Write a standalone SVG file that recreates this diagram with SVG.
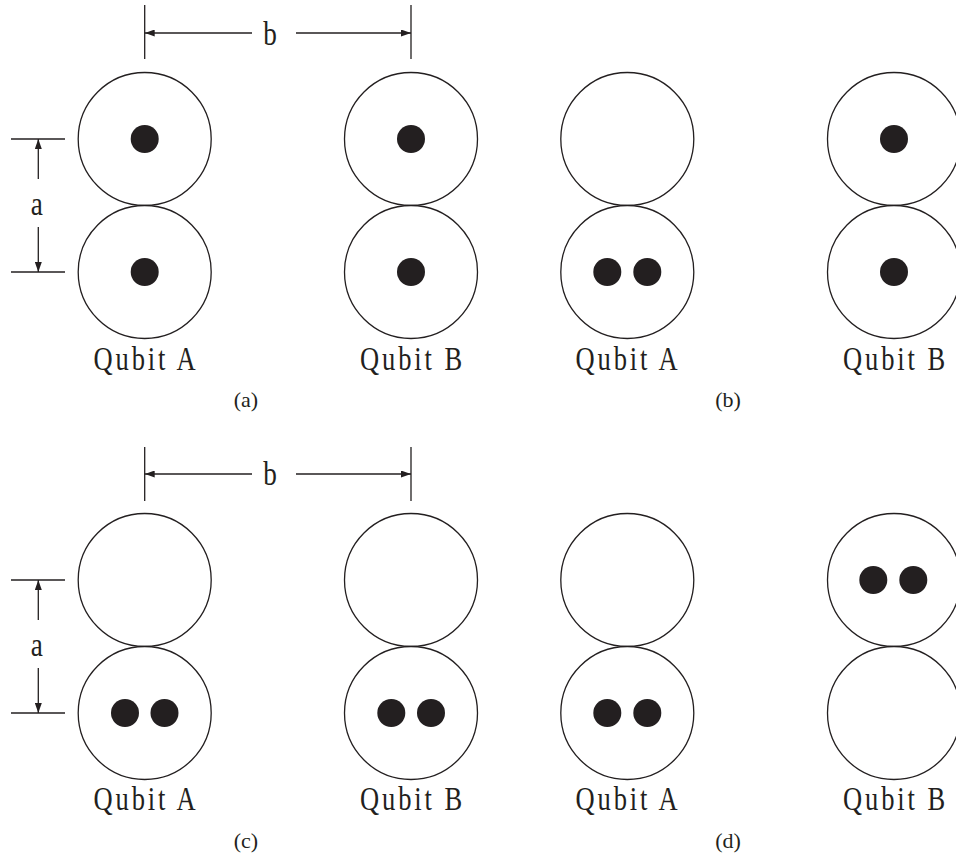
<svg xmlns="http://www.w3.org/2000/svg" width="956" height="860" viewBox="0 0 956 860">
<defs>
<style>
.well{fill:#fff;stroke:#231f20;stroke-width:1.3}
.dot{fill:#231f20}
.dim{stroke:#231f20;stroke-width:1.3;fill:none}
.lbl{font-family:"Liberation Serif","Times New Roman",serif;font-size:34px;fill:#231f20;text-anchor:middle}
.cap{font-family:"Liberation Serif","Times New Roman",serif;font-size:22px;fill:#231f20;text-anchor:middle}
</style>
<marker id="ah" viewBox="0 0 10 7" refX="10" refY="3.5" markerWidth="10" markerHeight="7" markerUnits="userSpaceOnUse" orient="auto">
<path d="M0,0 L10,3.5 L0,7 Z" fill="#231f20"/>
</marker>
</defs>
<rect width="956" height="860" fill="#fff"/>

<!-- (a) -->
<g id="a-qubitA">
<circle class="well" cx="144.7" cy="139" r="66.5"/>
<circle class="well" cx="144.7" cy="272" r="66.5"/>
<circle class="dot" cx="144.7" cy="139" r="14"/>
<circle class="dot" cx="144.7" cy="272" r="14"/>
<text class="lbl" transform="translate(144.5,370) scale(0.78,1)" textLength="131" lengthAdjust="spacing">Qubit A</text>
</g>
<g id="a-qubitB">
<circle class="well" cx="411" cy="139" r="66.5"/>
<circle class="well" cx="411" cy="272" r="66.5"/>
<circle class="dot" cx="411" cy="139" r="14"/>
<circle class="dot" cx="411" cy="272" r="14"/>
<text class="lbl" transform="translate(411,370) scale(0.78,1)" textLength="131" lengthAdjust="spacing">Qubit B</text>
</g>
<text class="cap" x="246" y="407">(a)</text>

<!-- (b) -->
<g id="b-qubitA">
<circle class="well" cx="627.3" cy="139" r="66.5"/>
<circle class="well" cx="627.3" cy="272" r="66.5"/>
<circle class="dot" cx="607.3" cy="272" r="14"/>
<circle class="dot" cx="647.3" cy="272" r="14"/>
<text class="lbl" transform="translate(626.5,370) scale(0.78,1)" textLength="131" lengthAdjust="spacing">Qubit A</text>
</g>
<g id="b-qubitB">
<circle class="well" cx="894" cy="139" r="66.5"/>
<circle class="well" cx="894" cy="272" r="66.5"/>
<circle class="dot" cx="894" cy="139" r="14"/>
<circle class="dot" cx="894" cy="272" r="14"/>
<text class="lbl" transform="translate(894,370) scale(0.78,1)" textLength="131" lengthAdjust="spacing">Qubit B</text>
</g>
<text class="cap" x="728" y="407">(b)</text>

<!-- (c) -->
<g id="c-qubitA">
<circle class="well" cx="144.7" cy="580" r="66.5"/>
<circle class="well" cx="144.7" cy="713" r="66.5"/>
<circle class="dot" cx="125" cy="713" r="14"/>
<circle class="dot" cx="164.5" cy="713" r="14"/>
<text class="lbl" transform="translate(144.5,810) scale(0.78,1)" textLength="131" lengthAdjust="spacing">Qubit A</text>
</g>
<g id="c-qubitB">
<circle class="well" cx="411" cy="580" r="66.5"/>
<circle class="well" cx="411" cy="713" r="66.5"/>
<circle class="dot" cx="391.3" cy="713" r="14"/>
<circle class="dot" cx="431" cy="713" r="14"/>
<text class="lbl" transform="translate(411,810) scale(0.78,1)" textLength="131" lengthAdjust="spacing">Qubit B</text>
</g>
<text class="cap" x="246" y="848">(c)</text>

<!-- (d) -->
<g id="d-qubitA">
<circle class="well" cx="627.3" cy="580" r="66.5"/>
<circle class="well" cx="627.3" cy="713" r="66.5"/>
<circle class="dot" cx="607.3" cy="713" r="14"/>
<circle class="dot" cx="647.3" cy="713" r="14"/>
<text class="lbl" transform="translate(626.5,810) scale(0.78,1)" textLength="131" lengthAdjust="spacing">Qubit A</text>
</g>
<g id="d-qubitB">
<circle class="well" cx="894" cy="580" r="66.5"/>
<circle class="well" cx="894" cy="713" r="66.5"/>
<circle class="dot" cx="873.3" cy="580" r="14"/>
<circle class="dot" cx="913.3" cy="580" r="14"/>
<text class="lbl" transform="translate(894,810) scale(0.78,1)" textLength="131" lengthAdjust="spacing">Qubit B</text>
</g>
<text class="cap" x="728" y="848">(d)</text>

<!-- dimension connectors -->
<g id="connectors">
<line class="dim" x1="144.7" y1="5" x2="144.7" y2="59"/>
<line class="dim" x1="411" y1="5" x2="411" y2="59"/>
<line class="dim" x1="252" y1="33" x2="144.7" y2="33" marker-end="url(#ah)"/>
<line class="dim" x1="296" y1="33" x2="411" y2="33" marker-end="url(#ah)"/>
<line class="dim" x1="11" y1="139" x2="65" y2="139"/>
<line class="dim" x1="11" y1="272" x2="65" y2="272"/>
<line class="dim" x1="38.3" y1="179" x2="38.3" y2="139" marker-end="url(#ah)"/>
<line class="dim" x1="38.3" y1="227" x2="38.3" y2="272" marker-end="url(#ah)"/>

<line class="dim" x1="144.7" y1="447" x2="144.7" y2="501"/>
<line class="dim" x1="411" y1="447" x2="411" y2="501"/>
<line class="dim" x1="252" y1="474" x2="144.7" y2="474" marker-end="url(#ah)"/>
<line class="dim" x1="296" y1="474" x2="411" y2="474" marker-end="url(#ah)"/>
<line class="dim" x1="11" y1="580" x2="65" y2="580"/>
<line class="dim" x1="11" y1="713" x2="65" y2="713"/>
<line class="dim" x1="38.3" y1="620" x2="38.3" y2="580" marker-end="url(#ah)"/>
<line class="dim" x1="38.3" y1="668" x2="38.3" y2="713" marker-end="url(#ah)"/>
</g>
<text class="lbl" transform="translate(270,45) scale(0.8,1)">b</text>
<text class="lbl" transform="translate(36.7,215) scale(0.8,1)">a</text>
<text class="lbl" transform="translate(270,485) scale(0.8,1)">b</text>
<text class="lbl" transform="translate(36.7,656) scale(0.8,1)">a</text>
</svg>
